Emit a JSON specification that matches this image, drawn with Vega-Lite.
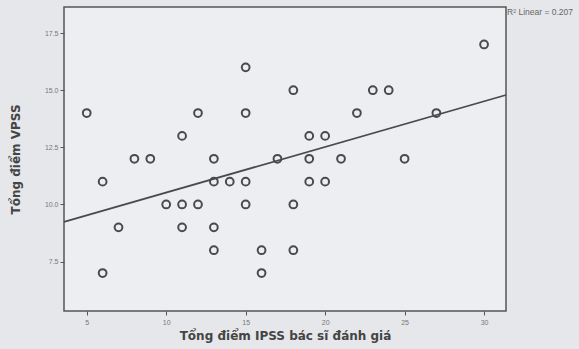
{
  "$schema": "https://vega.github.io/schema/vega-lite/v6.json",
  "width": 442,
  "height": 304,
  "autosize": {"type": "none"},
  "padding": {"left": 64, "top": 7, "right": 73, "bottom": 38},
  "background": "#e6e7eb",
  "config": {
    "view": {"stroke": "#555555", "strokeWidth": 1.5, "fill": "#eceef1"},
    "font": "Liberation Sans"
  },
  "datasets": {
    "pts": [
      {"ipss": 5, "vpss": 14}, {"ipss": 6, "vpss": 11}, {"ipss": 6, "vpss": 7},
      {"ipss": 7, "vpss": 9}, {"ipss": 8, "vpss": 12}, {"ipss": 9, "vpss": 12},
      {"ipss": 10, "vpss": 10}, {"ipss": 11, "vpss": 13}, {"ipss": 11, "vpss": 10},
      {"ipss": 11, "vpss": 9}, {"ipss": 12, "vpss": 14}, {"ipss": 12, "vpss": 10},
      {"ipss": 13, "vpss": 12}, {"ipss": 13, "vpss": 11}, {"ipss": 13, "vpss": 9},
      {"ipss": 13, "vpss": 8}, {"ipss": 14, "vpss": 11}, {"ipss": 15, "vpss": 16},
      {"ipss": 15, "vpss": 14}, {"ipss": 15, "vpss": 11}, {"ipss": 15, "vpss": 10},
      {"ipss": 16, "vpss": 8}, {"ipss": 16, "vpss": 7}, {"ipss": 17, "vpss": 12},
      {"ipss": 18, "vpss": 15}, {"ipss": 18, "vpss": 10}, {"ipss": 18, "vpss": 8},
      {"ipss": 19, "vpss": 13}, {"ipss": 19, "vpss": 12}, {"ipss": 19, "vpss": 11},
      {"ipss": 20, "vpss": 13}, {"ipss": 20, "vpss": 11}, {"ipss": 21, "vpss": 12},
      {"ipss": 22, "vpss": 14}, {"ipss": 23, "vpss": 15}, {"ipss": 24, "vpss": 15},
      {"ipss": 25, "vpss": 12}, {"ipss": 27, "vpss": 14}, {"ipss": 30, "vpss": 17}
    ],
    "fit": [
      {"ipss": 3.57, "vpss": 9.24},
      {"ipss": 31.38, "vpss": 14.79}
    ],
    "lbl": [
      {"ipss": 31.45, "vpss": 18.42, "text": "R² Linear = 0.207"}
    ]
  },
  "layer": [
    {
      "data": {"name": "fit"},
      "mark": {"type": "line", "color": "#4a4a4a", "strokeWidth": 1.8},
      "encoding": {
        "x": {
          "field": "ipss", "type": "quantitative",
          "scale": {"domain": [3.57, 31.38], "nice": false, "zero": false},
          "axis": {
            "title": "Tổng điểm IPSS bác sĩ đánh giá",
            "values": [5, 10, 15, 20, 25, 30],
            "grid": false, "domain": false,
            "tickSize": 4, "tickColor": "#555555", "tickWidth": 1,
            "labelFontSize": 7, "labelColor": "#777777", "labelPadding": 3,
            "titleFontSize": 12, "titleFont": "DejaVu Sans", "titleFontWeight": "bold",
            "titleColor": "#444444", "titlePadding": 5
          }
        },
        "y": {
          "field": "vpss", "type": "quantitative",
          "scale": {"domain": [5.34, 18.64], "nice": false, "zero": false},
          "axis": {
            "title": "Tổng điểm VPSS",
            "values": [7.5, 10, 12.5, 15, 17.5],
            "format": ".1f",
            "grid": false, "domain": false,
            "tickSize": 4, "tickColor": "#555555", "tickWidth": 1,
            "labelFontSize": 7, "labelColor": "#777777", "labelPadding": 2,
            "titleFontSize": 12, "titleFont": "DejaVu Sans", "titleFontWeight": "bold",
            "titleColor": "#444444", "titlePadding": 22
          }
        }
      }
    },
    {
      "data": {"name": "pts"},
      "mark": {"type": "point", "shape": "circle", "filled": false, "stroke": "#4a4a4a", "strokeWidth": 2, "size": 60, "opacity": 1},
      "encoding": {
        "x": {"field": "ipss", "type": "quantitative"},
        "y": {"field": "vpss", "type": "quantitative"}
      }
    },
    {
      "data": {"name": "lbl"},
      "mark": {"type": "text", "align": "left", "baseline": "middle", "fontSize": 8.5, "color": "#666666", "clip": false},
      "encoding": {
        "x": {"field": "ipss", "type": "quantitative"},
        "y": {"field": "vpss", "type": "quantitative"},
        "text": {"field": "text"}
      }
    }
  ]
}
